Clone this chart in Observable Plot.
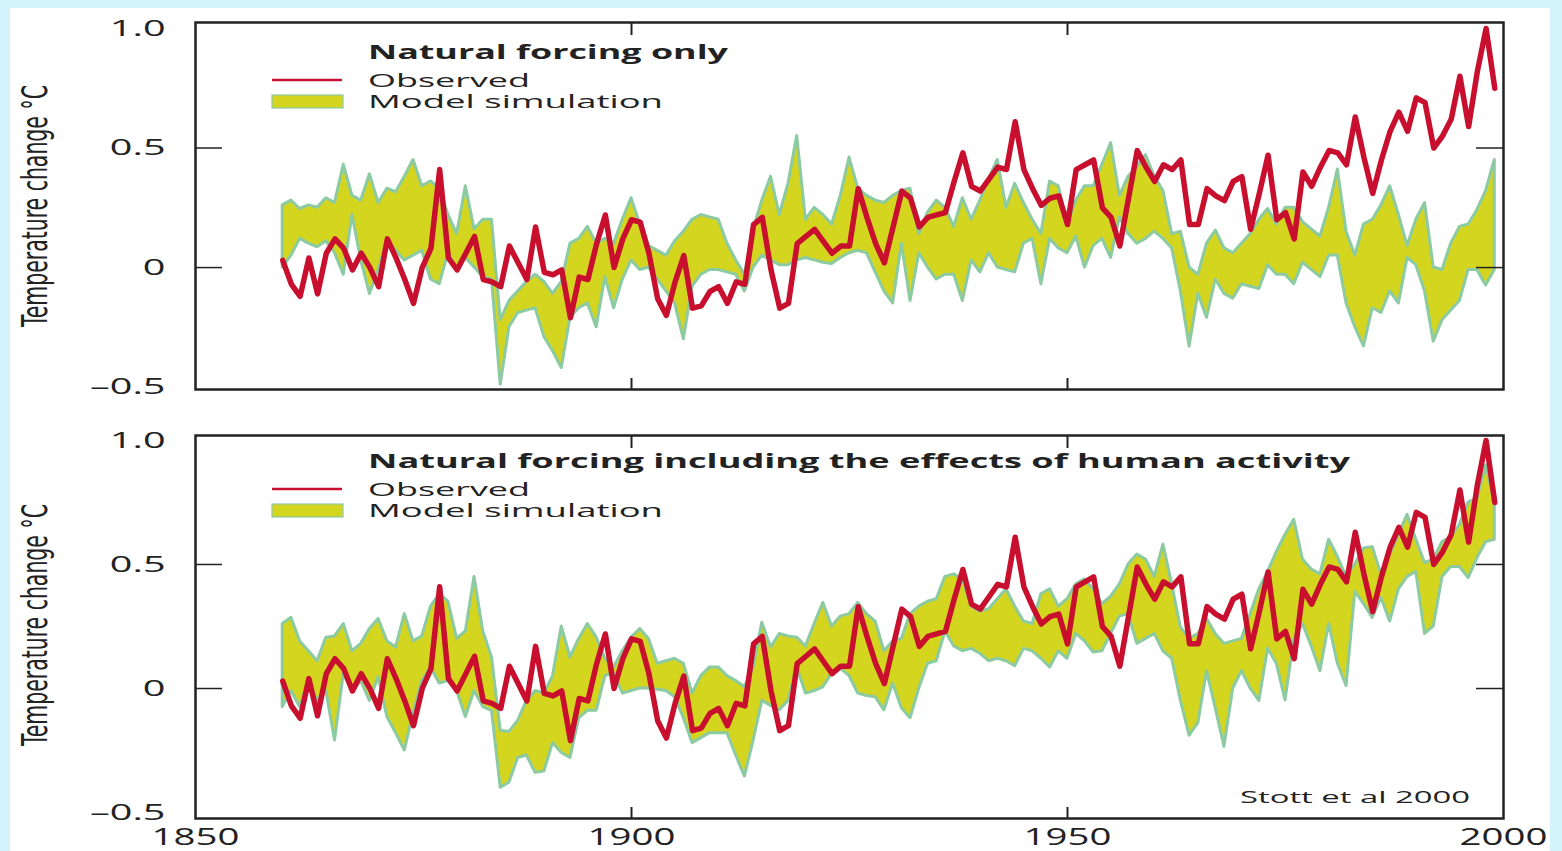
<!DOCTYPE html>
<html><head><meta charset="utf-8">
<script src="https://cdn.jsdelivr.net/npm/d3@7"></script>
<script src="https://cdn.jsdelivr.net/npm/@observablehq/plot@0.6"></script>
<style>
html,body{margin:0;padding:0;}
body{width:1562px;height:851px;background:#d3f4fa;position:relative;overflow:hidden;font-family:"Open Sans",sans-serif;}
#card{position:absolute;left:10px;top:8px;width:1540px;height:843px;background:#fff;}
#top{position:absolute;left:0;top:0;}
#bot{position:absolute;left:0;top:410px;}
#overlay{position:absolute;left:0;top:0;pointer-events:none;}
</style></head><body>
<div id="card"></div>
<div id="top"></div>
<div id="bot"></div>
<svg id="overlay" width="1562" height="851"></svg>
<script>
// ---- data, years 1860..1999 ----
const startYear = 1860;
const observed = [
 0.03,-0.07,-0.12,0.04,-0.11,0.06,0.12,0.08,-0.01,0.06,
 0.00,-0.08,0.12,0.04,-0.05,-0.15,0.00,0.08,0.41,0.04,
 -0.01,0.06,0.13,-0.05,-0.06,-0.08,0.09,0.02,-0.05,0.17,
 -0.02,-0.03,-0.01,-0.21,-0.04,-0.05,0.10,0.22,0.00,0.12,
 0.20,0.19,0.06,-0.13,-0.20,-0.06,0.05,-0.17,-0.16,-0.10,
 -0.08,-0.15,-0.06,-0.07,0.18,0.21,-0.01,-0.17,-0.15,0.10,
 0.13,0.16,0.11,0.06,0.09,0.09,0.33,0.21,0.10,0.02,
 0.17,0.32,0.29,0.17,0.21,0.22,0.23,0.36,0.48,0.34,
 0.32,0.37,0.42,0.41,0.61,0.41,0.33,0.26,0.29,0.30,
 0.18,0.41,0.43,0.45,0.25,0.21,0.09,0.29,0.49,0.42,
 0.36,0.43,0.41,0.45,0.18,0.18,0.33,0.30,0.28,0.36,
 0.38,0.16,0.31,0.47,0.20,0.23,0.12,0.40,0.34,0.42,
 0.49,0.48,0.43,0.63,0.46,0.31,0.45,0.57,0.65,0.57,
 0.71,0.69,0.50,0.55,0.62,0.80,0.59,0.82,1.00,0.75
];
const naturalHigh = [
 0.26,0.28,0.245,0.26,0.25,0.29,0.27,0.43,0.30,0.28,
 0.39,0.27,0.33,0.315,0.38,0.45,0.34,0.36,0.33,0.22,
 0.14,0.34,0.16,0.20,0.20,-0.22,-0.14,-0.10,-0.06,-0.03,
 -0.06,-0.11,-0.06,0.10,0.12,0.17,0.10,0.12,0.10,0.20,
 0.29,0.18,0.09,0.07,0.05,0.11,0.15,0.20,0.22,0.21,
 0.20,0.10,0.03,-0.03,0.16,0.28,0.38,0.22,0.35,0.55,
 0.20,0.25,0.22,0.18,0.30,0.46,0.33,0.30,0.28,0.27,
 0.30,0.32,0.33,0.14,0.23,0.28,0.25,0.17,0.29,0.20,
 0.28,0.37,0.45,0.25,0.35,0.27,0.20,0.14,0.36,0.34,
 0.18,0.28,0.34,0.34,0.43,0.52,0.30,0.38,0.42,0.47,
 0.38,0.32,0.14,0.15,0.00,-0.03,0.10,0.155,0.08,0.06,
 0.10,0.14,0.20,0.245,0.18,0.25,0.25,0.19,0.16,0.13,
 0.25,0.41,0.15,0.05,0.18,0.20,0.26,0.34,0.22,0.09,
 0.20,0.27,0.00,-0.01,0.10,0.17,0.18,0.24,0.32,0.45
];
const naturalLow = [
 0.00,0.05,0.12,0.10,0.085,0.11,0.06,-0.03,0.22,0.03,
 -0.11,-0.01,0.11,0.07,0.03,0.05,0.07,-0.05,-0.07,0.06,
 -0.01,0.04,0.00,-0.04,-0.05,-0.49,-0.25,-0.19,-0.18,-0.17,
 -0.29,-0.35,-0.42,-0.21,-0.17,-0.15,-0.25,-0.04,-0.17,-0.05,
 0.03,-0.01,0.00,-0.05,-0.10,-0.15,-0.30,-0.08,-0.03,-0.01,
 -0.01,-0.02,-0.03,-0.10,0.00,0.05,0.03,0.01,0.01,0.03,
 0.04,0.03,0.02,0.015,0.04,0.06,0.07,0.06,-0.02,-0.10,
 -0.15,0.10,-0.14,0.06,0.00,-0.05,-0.03,-0.03,-0.14,0.03,
 -0.02,0.06,0.00,-0.01,-0.02,0.10,0.12,-0.07,0.12,0.08,
 0.06,0.13,0.00,0.09,0.12,0.04,0.21,0.14,0.10,0.12,
 0.15,0.12,0.08,-0.10,-0.33,-0.11,-0.21,-0.05,-0.11,-0.13,
 -0.07,-0.08,-0.09,0.01,-0.03,-0.03,-0.07,0.02,-0.01,-0.04,
 0.05,0.05,-0.15,-0.25,-0.33,-0.17,-0.19,-0.10,-0.15,0.04,
 0.01,-0.10,-0.31,-0.22,-0.18,-0.14,-0.01,-0.01,-0.075,-0.01
];
const combinedHigh = [
 0.26,0.285,0.19,0.15,0.11,0.205,0.21,0.26,0.15,0.18,
 0.24,0.28,0.19,0.165,0.30,0.19,0.21,0.33,0.38,0.35,
 0.20,0.23,0.45,0.23,0.125,-0.17,-0.175,-0.13,-0.05,-0.01,
 -0.02,0.05,0.25,0.125,0.20,0.26,0.205,0.12,0.085,0.15,
 0.205,0.24,0.20,0.10,0.11,0.12,0.10,-0.02,0.05,0.085,
 0.085,0.05,0.03,0.005,0.085,0.265,0.165,0.22,0.21,0.205,
 0.17,0.26,0.345,0.25,0.29,0.30,0.345,0.30,0.27,0.15,
 0.19,0.20,0.30,0.33,0.35,0.36,0.45,0.46,0.44,0.33,
 0.31,0.32,0.36,0.40,0.33,0.27,0.26,0.38,0.40,0.33,
 0.36,0.42,0.44,0.40,0.34,0.37,0.42,0.50,0.54,0.52,
 0.45,0.58,0.42,0.245,0.20,0.22,0.28,0.22,0.18,0.19,
 0.20,0.30,0.40,0.47,0.55,0.62,0.68,0.52,0.48,0.46,
 0.60,0.53,0.45,0.50,0.565,0.57,0.46,0.54,0.62,0.70,
 0.60,0.505,0.52,0.59,0.61,0.66,0.75,0.765,0.90,0.75
];
const combinedLow = [
 -0.075,-0.01,-0.075,0.03,-0.05,-0.01,-0.21,0.06,-0.015,0.03,
 -0.05,0.045,-0.115,-0.18,-0.25,-0.10,0.03,0.085,0.02,0.03,
 -0.01,-0.115,-0.01,-0.075,-0.09,-0.40,-0.38,-0.28,-0.27,-0.34,
 -0.335,-0.22,-0.26,-0.28,-0.12,-0.09,-0.09,0.05,0.06,-0.02,
 -0.01,0.00,0.00,-0.005,-0.01,-0.035,-0.12,-0.22,-0.20,-0.18,
 -0.18,-0.18,-0.27,-0.355,-0.21,-0.05,-0.07,-0.088,-0.05,0.085,
 -0.02,-0.01,0.005,0.06,0.08,0.05,-0.02,-0.03,-0.035,-0.088,
 0.02,-0.08,-0.12,0.00,0.10,0.11,0.23,0.17,0.15,0.16,
 0.14,0.11,0.12,0.11,0.09,0.16,0.15,0.12,0.085,0.15,
 0.12,0.22,0.19,0.145,0.15,0.22,0.29,0.30,0.18,0.20,
 0.22,0.15,0.12,-0.05,-0.19,-0.14,0.07,-0.08,-0.235,0.00,
 0.07,0.00,-0.05,0.16,0.10,-0.048,0.20,0.26,0.17,0.07,
 0.26,0.10,0.01,0.39,0.34,0.285,0.365,0.27,0.40,0.45,
 0.47,0.22,0.25,0.45,0.49,0.49,0.445,0.525,0.59,0.60
];
const yTickValues = [-0.5, 0, 0.5, 1.0];
const xTickValues = [1850, 1900, 1950, 2000];
const innerYTicks = [0, 0.5];
const innerXTicks = [1900, 1950];
const panelTitles = ["Natural forcing only", "Natural forcing including the effects of human activity"];
const seriesLabels = ["Observed", "Model simulation"];
const credit = "Stott et al 2000";
const yTitle = "Temperature change \u00B0C";

// ---- styles ----
const RED = "#c8102e", FILL = "#d4d51f", EDGE = "#8ccaa2", INK = "#222";
const W = 1562, ML = 195, MR = 59, FW = W - ML - MR;

function table(lo, hi) {
  return observed.map((obs, i) => ({year: startYear + i, obs, lo: lo[i], hi: hi[i]}));
}
const fmt = d => d === 0 ? "0" : (d < 0 ? "\u2013" : "") + Math.abs(d).toFixed(1);

function panel(data, {height, marginTop, marginBottom, yDomain, showX}) {
  const FH = height - marginTop - marginBottom;
  const marks = [
    Plot.areaY(data, {x: "year", y1: "lo", y2: "hi", fill: FILL, stroke: EDGE, strokeWidth: 3, strokeLinejoin: "round"}),
    Plot.lineY(data, {x: "year", y: "obs", stroke: RED, strokeWidth: 5.5, strokeLinejoin: "round"}),
    Plot.tickY(innerYTicks, {y: d => d, stroke: INK, strokeWidth: 1.5, insetRight: FW - 27}),
    Plot.tickY(innerYTicks, {y: d => d, stroke: INK, strokeWidth: 1.5, insetLeft: FW - 27}),
    Plot.tickX(innerXTicks, {x: d => d, stroke: INK, strokeWidth: 2, insetBottom: FH - 13}),
    Plot.tickX(innerXTicks, {x: d => d, stroke: INK, strokeWidth: 2, insetTop: FH - 11}),
    Plot.frame({stroke: INK, strokeWidth: 2.5}),
    Plot.axisY(yTickValues, {tickSize: 0, tickPadding: 30, tickFormat: fmt, fontSize: 22, label: null, fill: INK})
  ];
  if (showX) marks.push(Plot.axisX(xTickValues, {tickSize: 0, tickPadding: 9, tickFormat: d => String(d), fontSize: 24, label: null, fill: INK}));
  return Plot.plot({
    width: W, height, marginLeft: ML, marginRight: MR, marginTop, marginBottom,
    style: {background: "transparent", fontFamily: "'Open Sans', sans-serif", color: INK, overflow: "visible"},
    x: {domain: [1850, 2000], axis: showX ? undefined : null},
    y: {domain: yDomain},
    marks
  });
}

function stretch(svg) {
  svg.querySelectorAll('g[aria-label="y-axis tick label"] text').forEach(t => {
    const w = t.getComputedTextLength();
    t.setAttribute("textLength", (w * 1.8).toFixed(1));
    t.setAttribute("lengthAdjust", "spacingAndGlyphs");
  });
  svg.querySelectorAll('g[aria-label="x-axis tick label"] text').forEach(t => {
    const w = t.getComputedTextLength();
    t.setAttribute("textLength", (w * 1.6).toFixed(1));
    t.setAttribute("lengthAdjust", "spacingAndGlyphs");
  });
}

const topSvg = panel(table(naturalLow, naturalHigh), {height: 410, marginTop: 22, marginBottom: 21, yDomain: [-0.51, 1.025], showX: false});
const botSvg = panel(table(combinedLow, combinedHigh), {height: 441, marginTop: 25, marginBottom: 33, yDomain: [-0.524, 1.020], showX: true});
document.getElementById("top").appendChild(topSvg);
document.getElementById("bot").appendChild(botSvg);
stretch(topSvg); stretch(botSvg);

// ---- legends / titles overlay ----
const ov = d3.select("#overlay");
function txt(s, x, y, len, size, weight) {
  return ov.append("text").attr("x", x).attr("y", y).text(s)
    .attr("font-family", "'Open Sans', sans-serif").attr("font-size", size).attr("font-weight", weight || 400)
    .attr("fill", INK).attr("textLength", len).attr("lengthAdjust", "spacingAndGlyphs");
}
function legend(title, titleLen, top) {
  txt(title, 368, top + 37, titleLen, 19, 700);
  ov.append("line").attr("x1", 272).attr("x2", 342).attr("y1", top + 58).attr("y2", top + 58).attr("stroke", RED).attr("stroke-width", 2.5);
  txt(seriesLabels[0], 368, top + 65, 162, 18);
  ov.append("rect").attr("x", 272).attr("y", top + 73).attr("width", 71).attr("height", 13).attr("fill", FILL).attr("stroke", EDGE).attr("stroke-width", 1.2);
  txt(seriesLabels[1], 368, top + 86, 295, 18);
}
legend(panelTitles[0], 360, 22);
legend(panelTitles[1], 982, 431);
txt(credit, 1240, 803, 230, 16);
function yLabel(cy) {
  const size = 35;
  const t = ov.append("text").attr("text-anchor", "middle")
    .attr("font-family", "'Liberation Sans Narrow', 'DejaVu Sans Condensed', sans-serif").attr("font-size", size)
    .attr("fill", INK).text(yTitle);
  const len = t.node().getComputedTextLength();
  const sx = 242 / len;
  t.attr("transform", `translate(47,${cy}) rotate(-90) scale(${sx.toFixed(3)},1)`);
}
yLabel(206); yLabel(625);
</script>
</body></html>
